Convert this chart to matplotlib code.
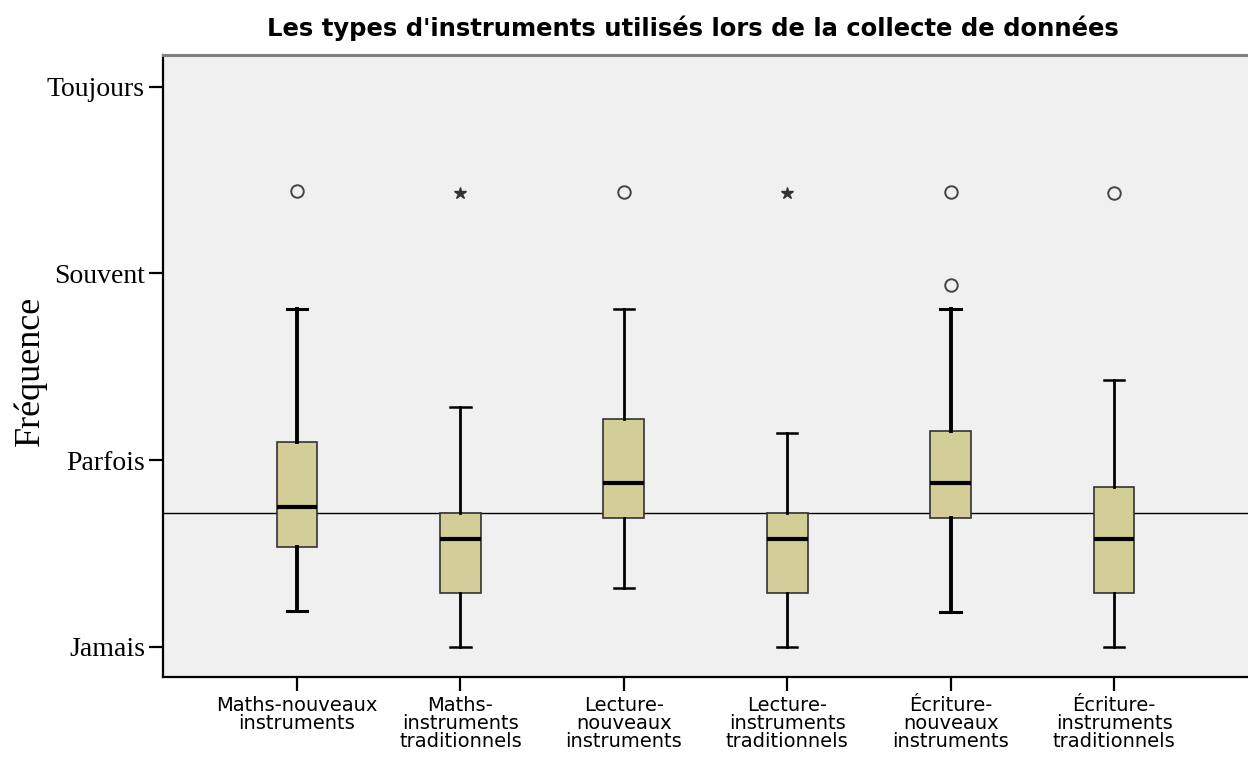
import matplotlib
matplotlib.use("Agg")
import matplotlib.pyplot as plt

# data (1=Jamais, 2=Parfois, 3=Souvent, 4=Toujours)
categories = ["Maths-nouveaux\ninstruments", "Maths-\ninstruments\ntraditionnels",
              "Lecture-\nnouveaux\ninstruments", "Lecture-\ninstruments\ntraditionnels",
              "Écriture-\nnouveaux\ninstruments", "Écriture-\ninstruments\ntraditionnels"]
whislo = [1.19, 1.0, 1.316, 1.0, 1.187, 1.0]
q1 = [1.536, 1.29, 1.688, 1.29, 1.688, 1.29]
med = [1.75, 1.575, 1.878, 1.575, 1.878, 1.575]
q3 = [2.095, 1.714, 2.22, 1.714, 2.157, 1.857]
whishi = [2.81, 2.285, 2.81, 2.143, 2.81, 2.43]
outliers = [[3.44], [], [3.437], [], [3.437, 2.937], [3.43]]
extremes = [[], [3.43], [], [3.43], [], []]
ref_value = 1.716
ytick_vals = [1, 2, 3, 4]
ytick_labels = ["Jamais", "Parfois", "Souvent", "Toujours"]

fig = plt.figure(figsize=(12.48, 7.61), dpi=100)
ax = fig.add_axes([163/1248, 1 - 677/761, 1 - 163/1248, (677 - 55)/761])
ax.set_facecolor("#f0f0f0")

stats = []
for i in range(len(categories)):
    stats.append(dict(whislo=whislo[i], q1=q1[i], med=med[i], q3=q3[i],
                      whishi=whishi[i], fliers=outliers[i] + extremes[i]))

pos = list(range(len(categories)))
res = ax.bxp(stats, positions=pos, widths=0.25, patch_artist=True, showfliers=False,
             boxprops=dict(facecolor="#d3ce97", edgecolor="#333333", linewidth=1.2),
             medianprops=dict(color="black", linewidth=3),
             whiskerprops=dict(color="black", linewidth=2.0),
             capprops=dict(color="black", linewidth=1.8))

# thicker whiskers on two of the boxes, as in the reference
for i in (0, 4):
    for ln in res["whiskers"][2*i:2*i+2]:
        ln.set_linewidth(2.8)
    for ln in res["caps"][2*i:2*i+2]:
        ln.set_linewidth(2.2)

for i, p in enumerate(pos):
    if outliers[i]:
        ax.plot([p]*len(outliers[i]), outliers[i], "o", ms=9, mfc="none",
                mec="#444444", mew=1.4, zorder=4)
    if extremes[i]:
        ax.plot([p]*len(extremes[i]), extremes[i], "*", ms=9, color="#333333", zorder=4)

ax.axhline(ref_value, color="black", linewidth=1.0, zorder=1.5)

ax.set_xlim(-0.82, 5.82)
ax.set_ylim(0.838, 4.17)
ax.set_yticks(ytick_vals)
ax.set_yticklabels(ytick_labels, family="Liberation Serif", fontsize=20)
ax.set_xticks(pos)
ax.set_xticklabels(categories, family="DejaVu Sans", fontsize=14, linespacing=0.92)
ax.tick_params(axis="y", length=10, width=1.6, pad=3, colors="black")
ax.tick_params(axis="x", length=10, width=1.6, pad=4, colors="black")

ax.spines["right"].set_visible(False)
ax.spines["top"].set_color("#808080")
ax.spines["top"].set_linewidth(2.2)
ax.spines["left"].set_linewidth(1.6)
ax.spines["bottom"].set_linewidth(1.6)

fig.text(693/1248, 1 - 28/761, "Les types d'instruments utilisés lors de la collecte de données",
         ha="center", va="center", fontsize=17.5, fontweight="bold", family="DejaVu Sans")
fig.text(30/1248, 1 - 371/761, "Fréquence", rotation=90, ha="center", va="center",
         fontsize=26, family="Liberation Serif")

fig.savefig("out.png", dpi=100)
